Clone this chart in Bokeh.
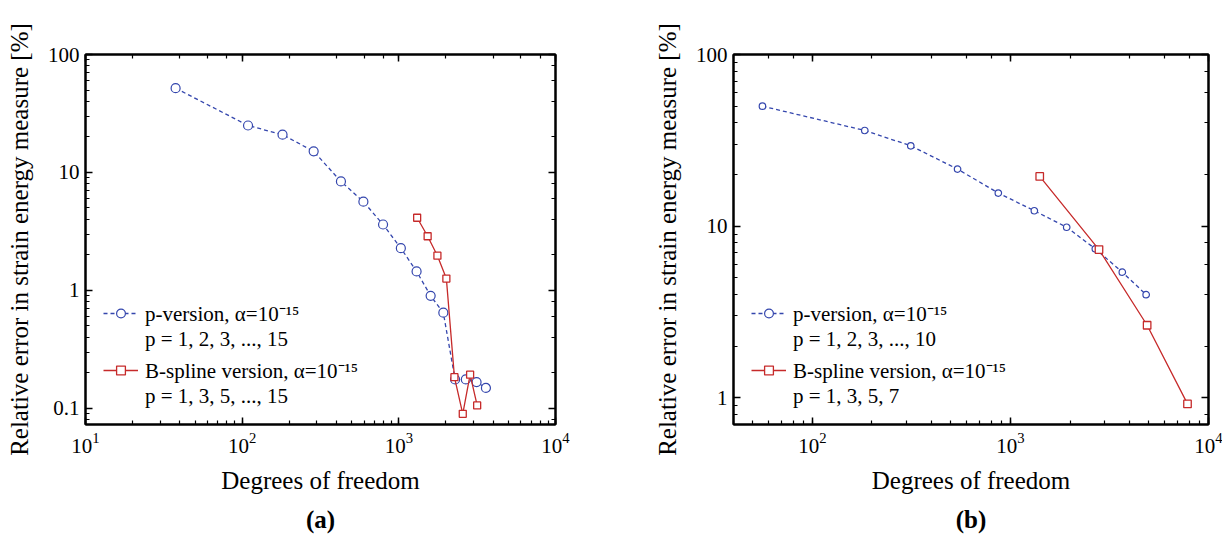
from bokeh.plotting import figure
from bokeh.layouts import row
from bokeh.models import (LogAxis, LogTicker, CustomJSTickFormatter, Legend,
                          LegendItem, Title)
from bokeh.embed import file_html
from bokeh.resources import INLINE

# ---------------- data ----------------
# panel (a)
a_p_dof = [37.6, 109, 181, 286, 427, 594, 793, 1030, 1298, 1596, 1923, 2286, 2677, 3134, 3597]
a_p_err = [51.8, 25.0, 20.9, 15.1, 8.39, 5.65, 3.62, 2.28, 1.45, 0.90, 0.647, 0.176, 0.176, 0.167, 0.149]
a_b_dof = [1309, 1527, 1763, 2011, 2264, 2559, 2851, 3162]
a_b_err = [4.13, 2.88, 1.97, 1.26, 0.184, 0.090, 0.193, 0.106]
# panel (b)
b_p_dof = [56, 184, 314, 541, 869, 1321, 1924, 2683, 3672, 4845]
b_p_err = [50.0, 36.1, 29.4, 21.5, 15.6, 12.3, 9.86, 7.38, 5.40, 3.99]
b_b_dof = [1406, 2800, 4900, 7834]
b_b_err = [19.5, 7.31, 2.65, 0.923]

labels_a = ["p-version, \u03b1=10\u207b\u00b9\u2075", "p = 1, 2, 3, ..., 15",
            "B-spline version, \u03b1=10\u207b\u00b9\u2075", "p = 1, 3, 5, ..., 15"]
labels_b = ["p-version, \u03b1=10\u207b\u00b9\u2075", "p = 1, 2, 3, ..., 10",
            "B-spline version, \u03b1=10\u207b\u00b9\u2075", "p = 1, 3, 5, 7"]

FONT = "Liberation Serif"
BLUE = "#3446ad"
RED = "#c62a2a"


def style_axis(ax):
    ax.major_tick_in = 7
    ax.major_tick_out = 0
    ax.minor_tick_in = 4
    ax.minor_tick_out = 0
    ax.major_tick_line_color = "black"
    ax.minor_tick_line_color = "black"
    ax.major_tick_line_width = 1.5
    ax.minor_tick_line_width = 1.2
    ax.axis_line_color = "black"
    ax.axis_line_width = 2
    ax.major_label_text_font = FONT
    ax.major_label_text_font_size = "21px"
    ax.major_label_text_color = "black"
    ax.axis_label_text_font = FONT
    ax.axis_label_text_font_size = "25px"
    ax.axis_label_text_font_style = "normal"
    ax.axis_label_text_color = "black"


def make_legend(items, y):
    return Legend(items=items, location=(18, y), padding=0, margin=0, spacing=-4,
                  glyph_width=35, glyph_height=22, label_height=22, label_standoff=7,
                  border_line_alpha=0, background_fill_alpha=0,
                  label_text_font=FONT, label_text_font_size="21px",
                  label_text_color="black")


def make_panel(title, xr, yr, pdof, perr, bdof, berr, labels, width, mbl, mbr,
               csize, ssize):
    p = figure(width=width, height=541, x_axis_type="log", y_axis_type="log",
               x_range=xr, y_range=yr, output_backend="svg", toolbar_location=None,
               min_border_left=mbl, min_border_right=mbr, min_border_top=54,
               min_border_bottom=117, background_fill_color="white",
               border_fill_color="white", outline_line_color="black",
               outline_line_width=2)
    p.grid.visible = False

    style_axis(p.xaxis[0])
    style_axis(p.yaxis[0])
    p.xaxis[0].axis_label = "Degrees of freedom"
    p.xaxis[0].major_label_standoff = 8
    p.xaxis[0].axis_label_standoff = 11
    p.yaxis[0].axis_label = "Relative error in strain energy measure [%]"
    p.yaxis[0].major_label_standoff = 6
    p.yaxis[0].axis_label_standoff = 12
    p.yaxis[0].formatter = CustomJSTickFormatter(
        code="return tick >= 1 ? tick.toFixed(0) : tick.toFixed(1);")

    blank = "return '';"
    top = LogAxis(ticker=LogTicker(), formatter=CustomJSTickFormatter(code=blank),
                  major_label_standoff=0)
    right = LogAxis(ticker=LogTicker(), formatter=CustomJSTickFormatter(code=blank),
                    major_label_standoff=0)
    style_axis(top)
    style_axis(right)
    top.major_label_text_font_size = "0px"
    right.major_label_text_font_size = "0px"
    p.add_layout(top, "above")
    p.add_layout(right, "right")

    pl = p.line(pdof, perr, line_color=BLUE, line_width=1.3, line_dash="4 3")
    ps = p.scatter(pdof, perr, marker="circle", size=csize, fill_color="white",
                   line_color=BLUE, line_width=1.2)
    bl = p.line(bdof, berr, line_color=RED, line_width=1.3)
    bs = p.scatter(bdof, berr, marker="square", size=ssize, fill_color="white",
                   line_color=RED, line_width=1.3)

    leg1 = make_legend([LegendItem(label=labels[0], renderers=[pl, ps]),
                        LegendItem(label=labels[1], renderers=[])], 72)
    leg2 = make_legend([LegendItem(label=labels[2], renderers=[bl, bs]),
                        LegendItem(label=labels[3], renderers=[])], 15)
    p.add_layout(leg1)
    p.add_layout(leg2)

    p.add_layout(Title(text=title, align="center", text_font=FONT,
                       text_font_size="25px", text_font_style="bold",
                       text_color="black", standoff=14), "below")
    return p


p1 = make_panel("(a)", (10, 1e4), (0.073, 100), a_p_dof, a_p_err, a_b_dof, a_b_err,
                labels_a, 600, 85, 45, 9, 7)
p2 = make_panel("(b)", (40, 1e4), (0.7, 100), b_p_dof, b_p_err, b_b_dof, b_b_err,
                labels_b, 622, 133, 14, 6.5, 7.5)

layout = row(p1, p2)
open("out.html", "w").write(file_html(layout, INLINE))
